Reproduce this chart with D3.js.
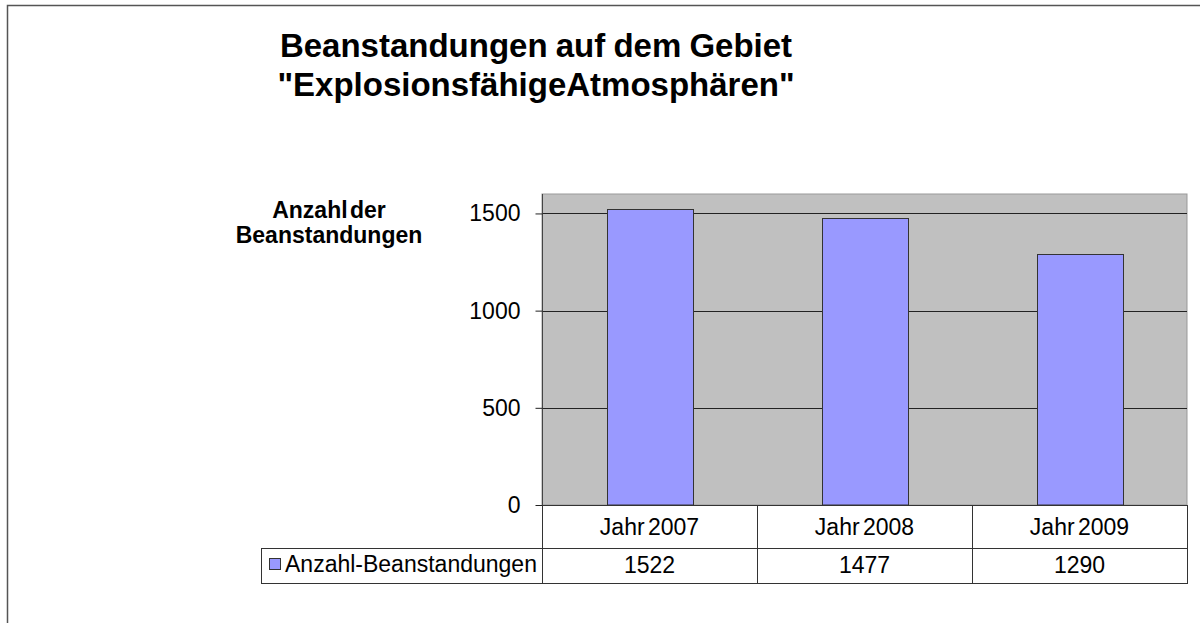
<!DOCTYPE html>
<html>
<head>
<meta charset="utf-8">
<script src="https://cdn.jsdelivr.net/npm/d3@7"></script>
<style>
  body { margin: 0; background: #fff; }
  text { font-family: "Liberation Sans", Arial, sans-serif; fill: #000; }
</style>
</head>
<body>
<div id="chart"></div>
<script>
var categories = ["Jahr 2007", "Jahr 2008", "Jahr 2009"];
var values = [1522, 1477, 1290];
var seriesName = "Anzahl-Beanstandungen";
var yTicks = [0, 500, 1000, 1500];

var width = 1200, height = 623;
var margin = { top: 194, right: 13, bottom: 118, left: 542 };

var svg = d3.select("#chart").append("svg")
    .attr("width", width)
    .attr("height", height);

// outer frame
svg.append("rect")
    .attr("x", 7.5).attr("y", 5.5)
    .attr("width", width).attr("height", height)
    .attr("fill", "none").attr("stroke", "#555").attr("stroke-width", 1.5);

var x = d3.scaleBand()
    .domain(categories)
    .range([margin.left, width - margin.right])
    .paddingInner(0).paddingOuter(0);

var y = d3.scaleLinear()
    .domain([0, 1600])
    .range([height - margin.bottom, margin.top]);

// plot background
svg.append("rect")
    .attr("x", margin.left).attr("y", margin.top)
    .attr("width", width - margin.right - margin.left)
    .attr("height", y(0) - margin.top)
    .attr("fill", "#c0c0c0")
    .attr("stroke", "#999").attr("stroke-width", 1);

// gridlines
svg.append("g")
    .selectAll("line")
    .data(yTicks.filter(d => d > 0))
    .enter().append("line")
    .attr("x1", margin.left).attr("x2", width - margin.right)
    .attr("y1", d => Math.round(y(d)) + 0.5).attr("y2", d => Math.round(y(d)) + 0.5)
    .attr("stroke", "#222").attr("stroke-width", 1);

// y axis
var yAxis = d3.axisLeft(y)
    .tickValues(yTicks)
    .tickSize(7)
    .tickPadding(15)
    .tickFormat(d => d);

var yg = svg.append("g")
    .attr("transform", `translate(${margin.left + 0.5},0)`)
    .call(yAxis);
yg.select(".domain").attr("stroke", "#444").attr("d", `M0,${margin.top}V${y(0)}`);
yg.selectAll(".tick line").attr("stroke", "#222");
yg.selectAll(".tick text")
    .style("font-family", "'Liberation Sans', Arial, sans-serif")
    .style("font-size", "23px")
    .attr("fill", "#000");

// bars
var barW = x.bandwidth() * 0.4;
svg.selectAll("rect.bar")
    .data(values)
    .enter().append("rect")
    .attr("class", "bar")
    .attr("x", (d, i) => Math.round(x(categories[i]) + (x.bandwidth() - barW) / 2) + 0.5)
    .attr("y", d => Math.round(y(d)) + 0.5)
    .attr("width", barW)
    .attr("height", d => y(0) - Math.round(y(d)) - 0.5)
    .attr("fill", "#9999ff")
    .attr("stroke", "#333").attr("stroke-width", 1);

// data table
var rowTop = y(0), rowMid = 548, rowBot = 583, tableLeft = 261;
var table = svg.append("g").attr("class", "table");

table.append("rect")
    .attr("x", margin.left + 0.5).attr("y", rowTop + 0.5)
    .attr("width", width - margin.right - margin.left).attr("height", rowMid - rowTop)
    .attr("fill", "#fff").attr("stroke", "#333");
table.append("rect")
    .attr("x", tableLeft + 0.5).attr("y", rowMid + 0.5)
    .attr("width", width - margin.right - tableLeft).attr("height", rowBot - rowMid)
    .attr("fill", "#fff").attr("stroke", "#333");

table.selectAll("line.col")
    .data(categories)
    .enter().append("line")
    .attr("class", "col")
    .attr("x1", d => Math.round(x(d)) + 0.5).attr("x2", d => Math.round(x(d)) + 0.5)
    .attr("y1", rowTop).attr("y2", rowBot)
    .attr("stroke", "#333");

table.selectAll("text.cat")
    .data(categories)
    .enter().append("text")
    .attr("class", "cat")
    .attr("x", d => x(d) + x.bandwidth() / 2)
    .attr("y", 535)
    .attr("text-anchor", "middle")
    .style("font-size", "23px")
    .style("word-spacing", "-3px")
    .text(d => d);

table.selectAll("text.val")
    .data(values)
    .enter().append("text")
    .attr("class", "val")
    .attr("x", (d, i) => x(categories[i]) + x.bandwidth() / 2)
    .attr("y", 573)
    .attr("text-anchor", "middle")
    .style("font-size", "23px")
    .text(d => d);

// legend key
table.append("rect")
    .attr("x", 269.5).attr("y", 558.5)
    .attr("width", 11).attr("height", 11)
    .attr("fill", "#9999ff").attr("stroke", "#333");
table.append("text")
    .attr("x", 285).attr("y", 572)
    .style("font-size", "23px")
    .text(seriesName);

// title
var title = svg.append("text")
    .attr("text-anchor", "middle")
    .style("font-size", "33px").style("font-weight", "bold");
title.append("tspan").attr("x", 536).attr("y", 57).style("word-spacing", "-1px").text("Beanstandungen auf dem Gebiet");
title.append("tspan").attr("x", 536).attr("y", 96).style("word-spacing", "-8px").text("\"Explosionsfähige Atmosphären\"");

// y axis title
var yTitle = svg.append("text")
    .attr("text-anchor", "middle")
    .style("font-size", "23px").style("font-weight", "bold");
yTitle.append("tspan").attr("x", 329).attr("y", 218).style("word-spacing", "-4px").text("Anzahl der");
yTitle.append("tspan").attr("x", 329).attr("y", 243).text("Beanstandungen");
</script>
</body>
</html>
